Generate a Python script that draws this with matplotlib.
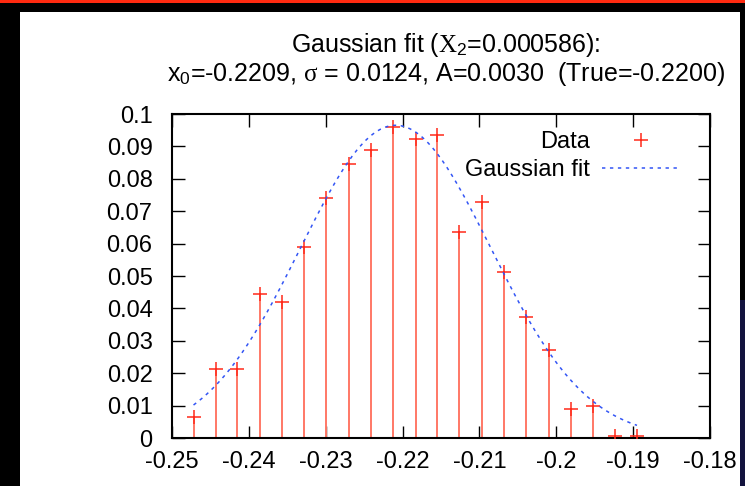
import numpy as np
import matplotlib
matplotlib.use("Agg")
from matplotlib import pyplot as plt
from matplotlib.patches import Rectangle

plt.rcParams['font.family'] = ['Liberation Sans', 'DejaVu Sans']
plt.rcParams['mathtext.fontset'] = 'custom'
plt.rcParams['mathtext.rm'] = 'Liberation Sans'
plt.rcParams['mathtext.it'] = 'Liberation Serif'
plt.rcParams['mathtext.sf'] = 'Liberation Sans'

# data
x_data = [-0.2472, -0.2443, -0.2415, -0.2386, -0.2357, -0.2328, -0.2299,
          -0.2270, -0.2241, -0.2212, -0.2183, -0.2155, -0.2126, -0.2097,
          -0.2068, -0.2039, -0.2010, -0.1981, -0.1952, -0.1924, -0.1895]
y_data = [0.0066, 0.0213, 0.0214, 0.0444, 0.0419, 0.0591, 0.0740,
          0.0845, 0.0890, 0.0959, 0.0923, 0.0935, 0.0637, 0.0729,
          0.0511, 0.0374, 0.0272, 0.0090, 0.0100, 0.0007, 0.0007]

# fit parameters from the title
fit_x0 = -0.2209
fit_sigma = 0.0124
fit_A = 0.0030

x_ticks = [-0.25, -0.24, -0.23, -0.22, -0.21, -0.2, -0.19, -0.18]
x_ticklabels = ['-0.25', '-0.24', '-0.23', '-0.22', '-0.21', '-0.2', '-0.19', '-0.18']
y_ticks = [0, 0.01, 0.02, 0.03, 0.04, 0.05, 0.06, 0.07, 0.08, 0.09, 0.1]
y_ticklabels = ['0', '0.01', '0.02', '0.03', '0.04', '0.05', '0.06', '0.07', '0.08', '0.09', '0.1']

W, H = 745, 486
fig = plt.figure(figsize=(W / 100, H / 100), dpi=100, facecolor='black')

# screenshot frame: black border, red strip on top, white page
frame = [
    ((0, 1 - 3 / H), 1, 3 / H, '#ff2a10'),
    ((20 / W, 0), 720 / W, 1 - 12 / H, 'white'),
    ((740 / W, 0), 5 / W, 186 / H, '#13133e'),
]
for xy, w, h, c in frame:
    fig.patches.append(Rectangle(xy, w, h, transform=fig.transFigure,
                                 facecolor=c, edgecolor='none', zorder=-10))

ax = fig.add_axes([172 / W, 1 - 438 / H, 538 / W, 324 / H])
ax.set_zorder(5)
ax.set_facecolor('white')

ax.vlines(x_data, 0, y_data, color='#ff7866', lw=1.4, zorder=2)
ax.plot(x_data, y_data, linestyle='none', marker='+', markersize=10,
        markeredgewidth=1.1, color='#ff2a1a', label='Data', zorder=3)

xf = np.linspace(x_data[0], x_data[-1], 300)
yf = fit_A / (fit_sigma * np.sqrt(2 * np.pi)) * np.exp(-(xf - fit_x0) ** 2 / (2 * fit_sigma ** 2))
ax.plot(xf, yf, color='#3355f5', lw=1.1, linestyle=(0, (2.2, 3)),
        label='Gaussian fit', zorder=4)

ax.set_xlim(-0.25, -0.18)
ax.set_ylim(0, 0.1)
ax.set_xticks(x_ticks)
ax.set_xticklabels(x_ticklabels)
ax.set_yticks(y_ticks)
ax.set_yticklabels(y_ticklabels)
ax.tick_params(direction='in', length=9, width=1.0, labelsize=17,
               top=True, right=True)
ax.tick_params(axis='y', pad=14)
ax.tick_params(axis='x', pad=9)
for s in ax.spines.values():
    s.set_linewidth(1.5)

ax.legend(loc='upper right', bbox_to_anchor=(0.944, 0.946), frameon=False,
          markerfirst=False, fontsize=17, borderaxespad=0, borderpad=0,
          handlelength=3.3, handletextpad=0.5, labelspacing=0.25)

fig.text(446 / W, 1 - 45 / H, r'Gaussian fit ($X_2$=0.000586):',
         ha='center', va='center', fontsize=18)
fig.text(446 / W, 1 - 74 / H, r'x$_0$=-0.2209, $\sigma$ = 0.0124, A=0.0030  (True=-0.2200)',
         ha='center', va='center', fontsize=18)

fig.savefig('out.png', dpi=100, facecolor=fig.get_facecolor())
